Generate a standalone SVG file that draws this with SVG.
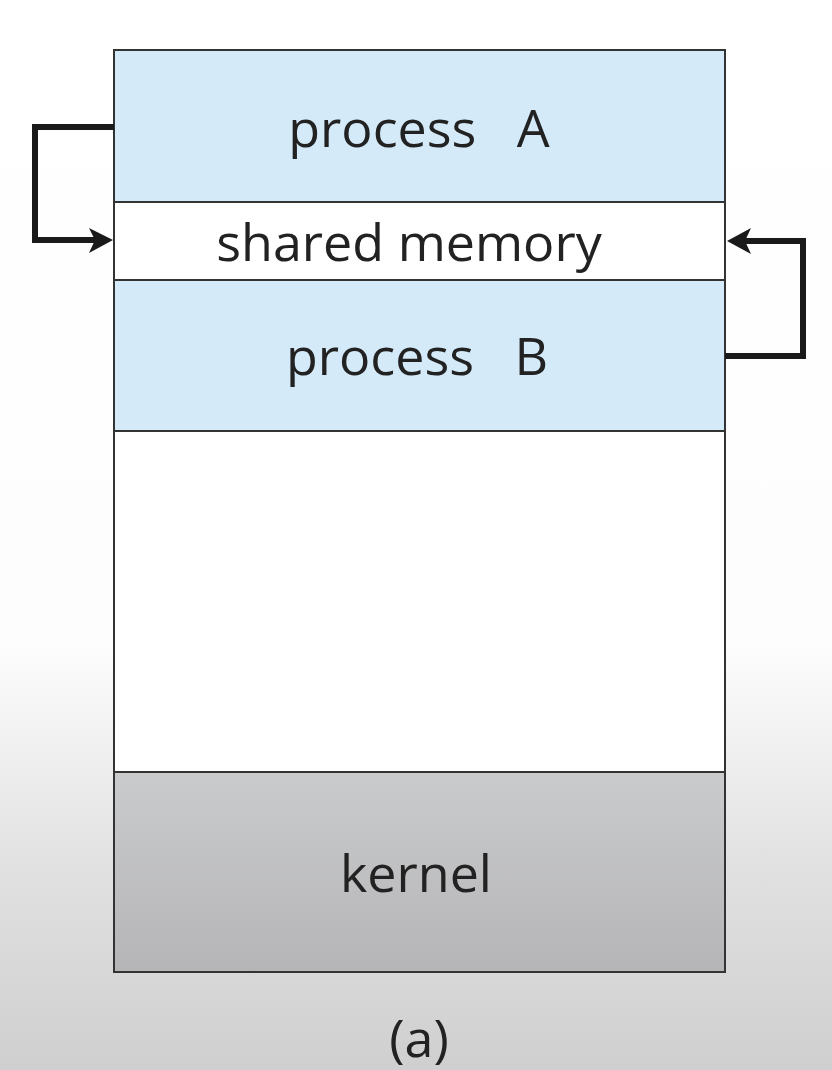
<svg xmlns="http://www.w3.org/2000/svg" width="832" height="1070" viewBox="0 0 832 1070">
<defs>
<linearGradient id="bg" x1="0" y1="0" x2="0" y2="1070" gradientUnits="userSpaceOnUse">
<stop offset="0" stop-color="#ffffff"/>
<stop offset="0.6" stop-color="#fdfdfd"/>
<stop offset="0.8" stop-color="#e2e2e2"/>
<stop offset="1" stop-color="#cfcfcf"/>
</linearGradient>
<linearGradient id="kg" x1="0" y1="0" x2="0" y2="1">
<stop offset="0" stop-color="#cacbcd"/>
<stop offset="1" stop-color="#b5b5b7"/>
</linearGradient>
<style>
.t{font-family:"Open Sans","Noto Sans",sans-serif;font-size:52px;fill:#222;text-anchor:middle;white-space:pre}
.b{stroke:#333;stroke-width:2}
.c{fill:none;stroke:#1a1a1a;stroke-width:6;stroke-linejoin:miter}
.h{fill:#1a1a1a}
</style>
</defs>
<rect width="832" height="1070" fill="url(#bg)"/>
<g id="processA"><rect class="b" x="114" y="50" width="611" height="152" fill="#d4eaf8"/><text class="t" x="419" y="147" xml:space="preserve">process   A</text></g>
<g id="shared"><rect class="b" x="114" y="202" width="611" height="78" fill="#ffffff"/><text class="t" x="409" y="261">shared memory</text></g>
<g id="processB"><rect class="b" x="114" y="280" width="611" height="151" fill="#d4eaf8"/><text class="t" x="417" y="375" xml:space="preserve">process   B</text></g>
<g id="free"><rect class="b" x="114" y="431" width="611" height="341" fill="#ffffff"/></g>
<g id="kernel"><rect class="b" x="114" y="772" width="611" height="200" fill="url(#kg)"/><text class="t" x="416" y="892">kernel</text></g>
<text class="t" x="419" y="1057">(a)</text>
<g id="connectors">
<path class="c" d="M114,127 H35 V240 H96"/>
<polygon class="h" points="113,240 89,228 95,240 89,253"/>
<path class="c" d="M725,356 H803 V241 H744"/>
<polygon class="h" points="727,241 751,228 745,241 751,254"/>
</g>
</svg>
